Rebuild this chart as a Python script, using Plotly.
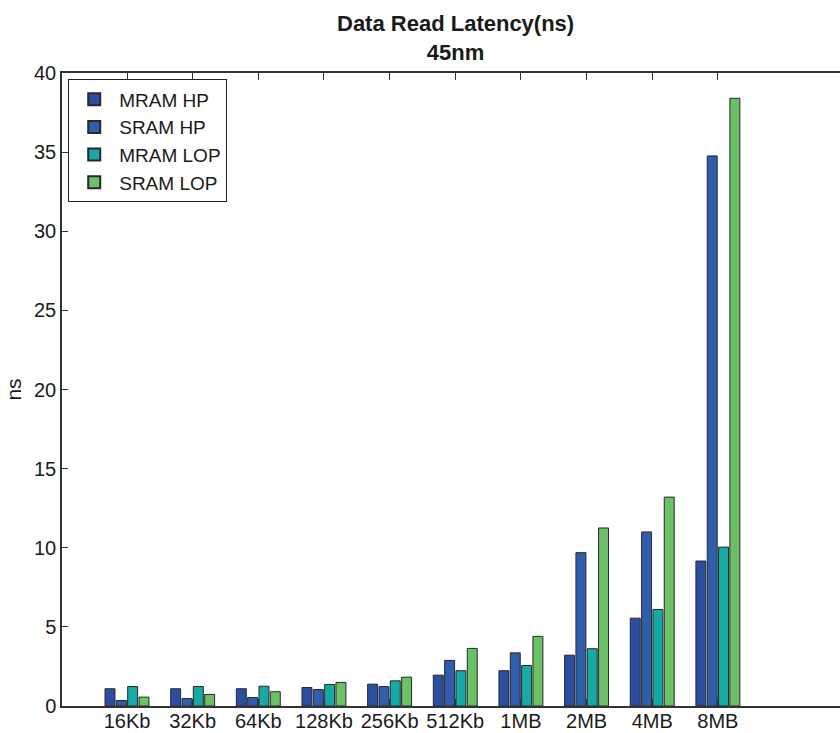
import plotly.graph_objects as go

categories = ["16Kb", "32Kb", "64Kb", "128Kb", "256Kb", "512Kb", "1MB", "2MB", "4MB", "8MB"]
mram_hp = [1.09, 1.09, 1.09, 1.17, 1.38, 1.95, 2.23, 3.21, 5.55, 9.16]
sram_hp = [0.35, 0.47, 0.54, 1.04, 1.23, 2.88, 3.36, 9.69, 11.0, 34.76]
mram_lop = [1.23, 1.23, 1.25, 1.36, 1.59, 2.23, 2.56, 3.62, 6.1, 10.04]
sram_lop = [0.56, 0.73, 0.9, 1.49, 1.82, 3.64, 4.4, 11.25, 13.2, 38.4]
y_ticks = [0, 5, 10, 15, 20, 25, 30, 35, 40]

series = [
    ("MRAM HP", mram_hp, "rgb(44,78,160)"),
    ("SRAM HP", sram_hp, "rgb(48,94,172)"),
    ("MRAM LOP", mram_lop, "rgb(22,169,166)"),
    ("SRAM LOP", sram_lop, "rgb(108,192,104)"),
]

fig = go.Figure()
for name, vals, col in series:
    fig.add_trace(go.Bar(
        x=categories, y=vals, name=name,
        marker=dict(color=col, line=dict(color="rgb(40,40,40)", width=1)),
    ))

font_family = "Liberation Sans, Arial, Helvetica, sans-serif"
fig.add_annotation(
    text="<b>Data Read Latency(ns)</b><br><b>45nm</b>",
    xref="paper", yref="paper", x=(455 - 62) / 778, y=1 + 64 / 633,
    xanchor="center", yanchor="top", showarrow=False, align="center",
    font=dict(size=22, family=font_family, color="#1a1a1a"),
)
fig.update_layout(
    width=840, height=733,
    margin=dict(l=62, r=0, t=73, b=27, autoexpand=False),
    paper_bgcolor="white", plot_bgcolor="white",
    barmode="group", bargap=0.31, bargroupgap=0.12,
    font=dict(family=font_family, size=20, color="#1a1a1a"),
    legend=dict(
        x=0.008, y=0.99, xanchor="left", yanchor="top",
        bordercolor="#222", borderwidth=1, bgcolor="white",
        font=dict(size=19, family=font_family),
        tracegroupgap=0, itemsizing="constant", itemwidth=40,
    ),
    showlegend=True,
    xaxis=dict(
        type="category", range=[-0.99, 10.86],
        showline=True, linecolor="#333", linewidth=1.5,
        mirror="ticks", ticks="inside", ticklen=7, tickcolor="#333",
        showgrid=False, zeroline=False, ticklabelstandoff=-4,
        tickfont=dict(size=20, family=font_family, color="#1a1a1a"),
    ),
    yaxis=dict(
        range=[0, 40], tickvals=y_ticks,
        showline=True, linecolor="#333", linewidth=1.5,
        mirror=False, ticks="inside", ticklen=6, tickcolor="#333",
        showgrid=False, zeroline=False,
        title=dict(text="ns", font=dict(size=21, family=font_family), standoff=7),
        tickfont=dict(size=20, family=font_family, color="#1a1a1a"),
    ),
)

fig.write_html("out.html", config={"displayModeBar": False},
               post_script="document.body.style.margin='0';")
